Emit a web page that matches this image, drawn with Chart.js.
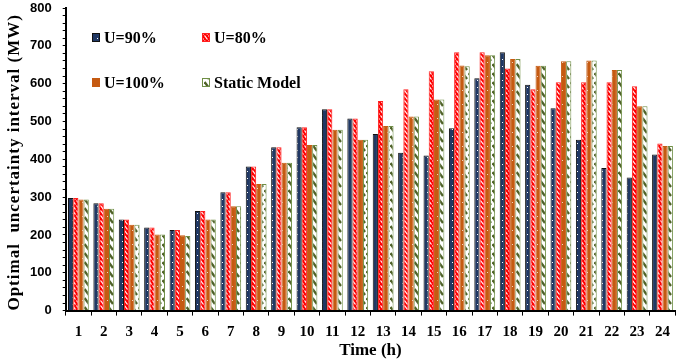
<!DOCTYPE html>
<html>
<head>
<meta charset="utf-8">
<title>Optimal uncertainty interval</title>
<script src="https://cdn.jsdelivr.net/npm/chart.js@4/dist/chart.umd.min.js"></script>
<style>
    html, body { margin: 0; padding: 0; background: #fff; }
    #wrap { width: 678px; height: 364px; position: relative; }
</style>
</head>
<body>
<div id="wrap"><canvas id="chart"></canvas></div>
<script>
const hours = ['1', '2', '3', '4', '5', '6', '7', '8', '9', '10', '11', '12',
    '13', '14', '15', '16', '17', '18', '19', '20', '21', '22', '23', '24'];
const u90 = [298, 284, 241, 220, 213, 263, 313, 381, 432, 485, 532, 508,
    467, 417, 410, 482, 614, 683, 597, 535, 452, 377, 352, 413];
const u80 = [298, 284, 241, 220, 213, 263, 313, 381, 432, 485, 532, 508,
    554, 585, 633, 683, 683, 640, 585, 604, 604, 604, 593, 442];
const u100 = [294, 269, 227, 201, 199, 241, 276, 335, 391, 438, 478, 452,
    488, 513, 558, 648, 675, 665, 647, 659, 661, 636, 540, 435];
const staticModel = [294, 269, 227, 201, 197, 241, 276, 335, 391, 438, 478, 452,
    488, 513, 558, 646, 675, 665, 647, 659, 661, 636, 540, 435];
const seriesNames = ['U=90%', 'U=80%', 'U=100%', 'Static Model'];
const yTicks = [0, 100, 200, 300, 400, 500, 600, 700, 800];
const yTitle = 'Optimal  uncertainty interval (MW)';

const serif = '"Liberation Serif", "Times New Roman", serif';
const sans = '"Liberation Sans", Arial, sans-serif';

// small tile patterns for the hatched bars
function makePattern(w, h, bg, draw) {
    const c = document.createElement('canvas');
    c.width = w;
    c.height = h;
    const g = c.getContext('2d');
    g.fillStyle = bg;
    g.fillRect(0, 0, w, h);
    draw(g);
    return g.createPattern(c, 'repeat');
}

const ctx = document.getElementById('chart').getContext('2d');

const navyFill = makePattern(5, 7, '#203864', g => {
    g.fillStyle = '#ffffff';
    g.fillRect(2, 3, 1, 1);
});
const redFill = makePattern(4, 5, '#ff0000', g => {
    g.strokeStyle = '#ffffff';
    g.lineWidth = 1.2;
    g.beginPath();
    g.moveTo(0.5, 0.5);
    g.lineTo(3.5, 4.5);
    g.stroke();
});
const orangeFill = makePattern(5, 14, '#c55a11', g => {
    g.fillStyle = '#f2d3bd';
    g.fillRect(2, 6, 1, 1);
});
const greenFill = makePattern(6, 9, '#ffffff', g => {
    g.strokeStyle = '#4f6228';
    g.lineWidth = 2.4;
    g.beginPath();
    g.moveTo(0.5, 1);
    g.lineTo(5, 7);
    g.stroke();
});

const fills = [navyFill, redFill, orangeFill, greenFill];
const borders = ['#111111', '#ff2020', '#c55a11', '#6f8f45'];

// 2x2 legend inside the plot, top left
const legendPlugin = {
    id: 'gridLegend',
    afterDraw(chart) {
        const c = chart.ctx;
        const spots = [[92, 38], [202, 38], [92, 83], [202, 83]];
        c.save();
        c.font = 'bold 16px ' + serif;
        c.textBaseline = 'middle';
        chart.data.datasets.forEach((ds, i) => {
            const [x, y] = spots[i];
            c.fillStyle = fills[i];
            c.fillRect(x, y - 5, 8, 9);
            c.strokeStyle = borders[i];
            c.lineWidth = 1;
            c.strokeRect(x + 0.5, y - 4.5, 7, 8);
            c.fillStyle = '#000';
            c.fillText(ds.label, x + 12, y + 1);
        });
        c.restore();
    }
};

// letter-spaced vertical axis title
const yTitlePlugin = {
    id: 'yTitle',
    afterDraw(chart) {
        const c = chart.ctx;
        const area = chart.chartArea;
        c.save();
        c.translate(15, (area.top + area.bottom) / 2 + 3);
        c.rotate(-Math.PI / 2);
        c.font = 'bold 17px ' + serif;
        c.letterSpacing = '1px';
        c.fillStyle = '#000';
        c.textAlign = 'center';
        c.textBaseline = 'middle';
        c.fillText(yTitle, 0, 0);
        c.restore();
    }
};

const datasets = [u90, u80, u100, staticModel].map((vals, i) => ({
    label: seriesNames[i],
    data: vals,
    backgroundColor: fills[i],
    borderColor: borders[i],
    borderWidth: 1,
    barPercentage: 1.0,
    categoryPercentage: 0.82
}));

new Chart(ctx, {
    type: 'bar',
    data: { labels: hours, datasets: datasets },
    plugins: [legendPlugin, yTitlePlugin],
    options: {
        responsive: true,
        maintainAspectRatio: false,
        animation: false,
        layout: { padding: { left: 19, right: 0, top: 0, bottom: 3 } },
        plugins: {
            legend: { display: false },
            tooltip: { enabled: false }
        },
        scales: {
            x: {
                offset: true,
                grid: {
                    offset: true,
                    drawOnChartArea: false,
                    tickLength: 5,
                    color: '#000',
                    lineWidth: 1
                },
                border: { color: '#000', width: 2 },
                ticks: {
                    color: '#000',
                    padding: 8,
                    maxRotation: 0,
                    autoSkip: false,
                    font: { family: serif, weight: 'bold', size: 15 }
                },
                title: {
                    display: true,
                    text: 'Time (h)',
                    color: '#000',
                    padding: { top: -9, bottom: 0 },
                    font: { family: serif, weight: 'bold', size: 17 }
                }
            },
            y: {
                min: 0,
                max: 800,
                // label padding would otherwise also push the plot top down
                afterFit: scale => { scale.paddingTop = 8; },
                grid: {
                    drawOnChartArea: false,
                    tickLength: 3,
                    color: '#000',
                    lineWidth: 1
                },
                border: { color: '#000', width: 2 },
                ticks: {
                    stepSize: 20,
                    autoSkip: false,
                    color: '#000',
                    padding: 11,
                    font: { family: sans, weight: 'bold', size: 13 },
                    callback: v => yTicks.includes(v) ? String(v) : ''
                }
            }
        }
    }
});
</script>
</body>
</html>
